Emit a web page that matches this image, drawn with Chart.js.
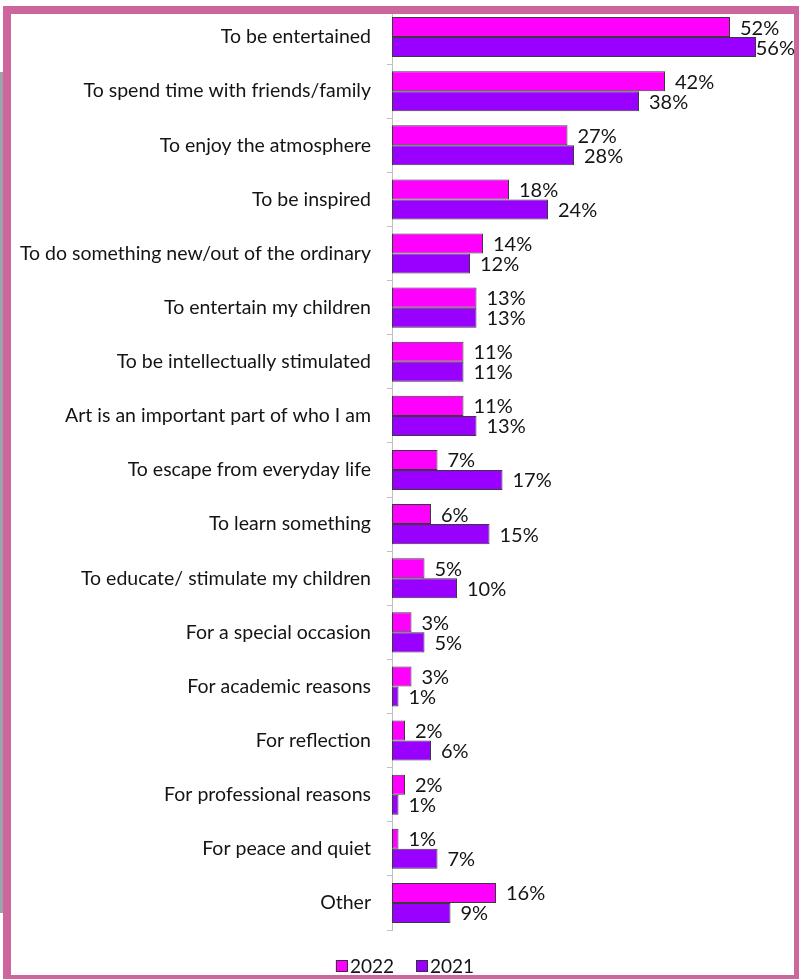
<!DOCTYPE html>
<html>
<head>
<meta charset="utf-8">
<title>Reasons for visiting</title>
<script src="https://cdn.jsdelivr.net/npm/chart.js@4.4.1/dist/chart.umd.min.js"></script>
<style>
  html, body { margin: 0; padding: 0; background: #ffffff; overflow: hidden; }
  #wrap { position: relative; width: 799px; height: 979px; }
  #chart { position: absolute; left: 0; top: 0; }
  #strip { position: absolute; left: 0; top: 72px; width: 3px; height: 841px; background: #9ea3a8; }
  #frame { position: absolute; left: 3px; top: 6px; width: 799px; height: 977px;
           box-sizing: border-box; border: 8px solid #cd669c; pointer-events: none; }
</style>
</head>
<body>
<div id="wrap">
  <div id="strip"></div>
  <canvas id="chart" width="799" height="979"></canvas>
  <div id="frame"></div>
</div>
<script>
// Reasons for attending, share of respondents (%)
const categories = [
  "To be entertained",
  "To spend time with friends/family",
  "To enjoy the atmosphere",
  "To be inspired",
  "To do something new/out of the ordinary",
  "To entertain my children",
  "To be intellectually stimulated",
  "Art is an important part of who I am",
  "To escape from everyday life",
  "To learn something",
  "To educate/ stimulate my children",
  "For a special occasion",
  "For academic reasons",
  "For reflection",
  "For professional reasons",
  "For peace and quiet",
  "Other"
];
const values2022 = [52, 42, 27, 18, 14, 13, 11, 11, 7, 6, 5, 3, 3, 2, 2, 1, 16];
const values2021 = [56, 38, 28, 24, 12, 13, 11, 13, 17, 15, 10, 5, 1, 6, 1, 7, 9];
const seriesNames = ["2022", "2021"];

const FONT = "Lato, 'Open Sans', sans-serif";
const TEXT = "#141414";

// Percent labels just past the end of each bar
const valueLabels = {
  id: "valueLabels",
  afterDatasetsDraw(chart) {
    const ctx = chart.ctx;
    ctx.save();
    ctx.font = "20px " + FONT;
    ctx.fillStyle = TEXT;
    ctx.textBaseline = "middle";
    ctx.textAlign = "left";
    chart.data.datasets.forEach((ds, i) => {
      const meta = chart.getDatasetMeta(i);
      meta.data.forEach((bar, j) => {
        const txt = ds.data[j] + "%";
        const w = ctx.measureText(txt).width;
        const x = Math.min(bar.x + 10, 795 - w);
        ctx.fillText(txt, x, bar.y + 1);
      });
    });
    ctx.restore();
  }
};

// Compact legend below the plot
const bottomLegend = {
  id: "bottomLegend",
  afterDraw(chart) {
    const ctx = chart.ctx;
    ctx.save();
    ctx.font = "19px " + FONT;
    ctx.textBaseline = "middle";
    const box = 12, gapText = 2, gapItem = 22;
    const items = chart.data.datasets.map(ds => ({
      label: ds.label, color: ds.backgroundColor, w: ctx.measureText(ds.label).width
    }));
    let total = 0;
    items.forEach((it, k) => { total += box + gapText + it.w + (k ? gapItem : 0); });
    let x = 405 - total / 2;
    const cy = 966;
    items.forEach(it => {
      ctx.fillStyle = it.color;
      ctx.fillRect(x, cy - box / 2, box, box);
      ctx.strokeStyle = "#333333";
      ctx.lineWidth = 1;
      ctx.strokeRect(x + 0.5, cy - box / 2 + 0.5, box - 1, box - 1);
      ctx.fillStyle = TEXT;
      ctx.fillText(it.label, x + box + gapText, cy + 1);
      x += box + gapText + it.w + gapItem;
    });
    ctx.restore();
  }
};

new Chart(document.getElementById("chart"), {
  type: "bar",
  data: {
    labels: categories,
    datasets: [
      { label: seriesNames[0], data: values2022, backgroundColor: "#ff00ff",
        borderColor: "#3a3a3a", borderWidth: 1, borderSkipped: false },
      { label: seriesNames[1], data: values2021, backgroundColor: "#9900ff",
        borderColor: "#3a3a3a", borderWidth: 1, borderSkipped: false }
    ]
  },
  options: {
    indexAxis: "y",
    responsive: false,
    animation: false,
    events: [],
    categoryPercentage: 0.74,
    barPercentage: 1.0,
    layout: { padding: { left: 0, right: 17, top: 10, bottom: 49 } },
    plugins: {
      legend: { display: false },
      tooltip: { enabled: false }
    },
    scales: {
      x: { display: false, min: 0, max: 60 },
      y: {
        grid: { display: true, drawOnChartArea: false, offset: true, tickLength: 5,
                color: "#bfbfbf", lineWidth: 1 },
        border: { display: true, color: "#bfbfbf", width: 1 },
        ticks: { font: { family: FONT, size: 19.5 }, color: TEXT, padding: 16, autoSkip: false },
        afterFit(scale) {
          scale.width = 392;
          scale.paddingTop = 0;
          scale.paddingBottom = 0;
        }
      }
    }
  },
  plugins: [valueLabels, bottomLegend]
});
</script>
</body>
</html>
